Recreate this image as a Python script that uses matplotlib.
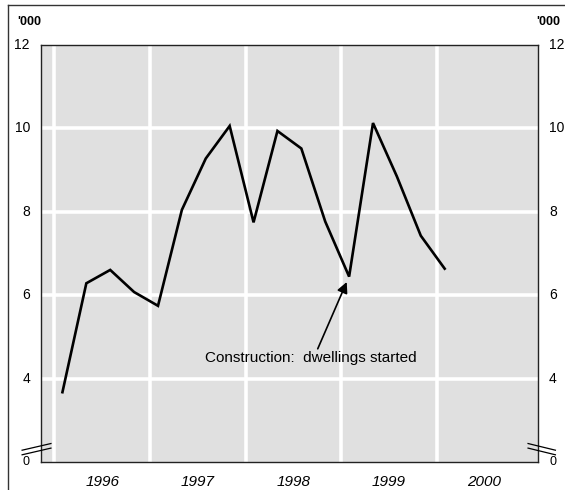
import numpy as np
import matplotlib.pyplot as plt
from matplotlib.lines import Line2D

# Quarterly dwellings started ('000), Feb/May/Aug/Nov 1996 - Feb 2000
years = [1996, 1997, 1998, 1999, 2000]
year_labels = ['1996', '1997', '1998', '1999', '2000']
dwellings = [3.68, 6.29, 6.61, 6.08, 5.75,
             8.05, 9.28, 10.06, 7.75,
             9.94, 9.52, 7.77, 6.45,
             10.13, 8.85, 7.43, 6.64]
y_ticks = [2, 4, 6, 8, 10, 12]
y_labels = ['0', '4', '6', '8', '10', '12']

plt.rcParams['font.family'] = ['Liberation Sans', 'DejaVu Sans']

# quarter mid-months as decimal years
x = 1996 + (np.arange(len(dwellings)) * 3 + 1) / 12.0

W, H = 565, 490
fig = plt.figure(figsize=(W / 100, H / 100), dpi=100)
ax = fig.add_axes([41 / W, 1 - 462.3 / H, 497 / W, 417.3 / H])

ax.set_facecolor('#e0e0e0')
ax.set_xlim(1995.859, 2001.06)
ax.set_ylim(2, 12)

# white grid
for yr in years:
    ax.axvline(yr, color='white', lw=2.6, zorder=1)
for yv in y_ticks[1:-1]:
    ax.axhline(yv, color='white', lw=2.6, zorder=1)

ax.plot(x, dwellings, color='black', lw=1.9, zorder=3, solid_joinstyle='miter')

# ticks and labels on both sides
ax.set_yticks(y_ticks)
ax.set_yticklabels(y_labels)
ax.set_xticks([yr + 0.5 for yr in years])
ax.set_xticklabels(year_labels, style='italic', fontsize=11)
ax.tick_params(axis='x', length=0, pad=9)
ax.tick_params(axis='y', length=0, labelsize=10, pad=8,
               left=True, right=True, labelleft=True, labelright=True)
for lab in ax.get_yticklabels():
    lab.set_verticalalignment('center')

# the broken-axis zero is printed a bit smaller
for t in ax.yaxis.get_major_ticks()[:1]:
    t.label1.set_fontsize(9)
    t.label2.set_fontsize(9)
    t.label1.set_y(1.99)

for sp in ax.spines.values():
    sp.set_color('#222222')
    sp.set_linewidth(1.0)
    sp.set_zorder(4)

# axis break marks
for dy in (0.0, 0.011):
    ax.plot([-0.038, 0.02], [0.018 + dy, 0.034 + dy], transform=ax.transAxes,
            color='black', lw=0.9, clip_on=False, zorder=5)
    ax.plot([0.98, 1.035], [0.034 + dy, 0.018 + dy], transform=ax.transAxes,
            color='black', lw=0.9, clip_on=False, zorder=5)

# units
fig.text(17 / W, 1 - 22 / H, "'000", fontsize=9, fontweight='bold', va='center', ha='left')
fig.text(560 / W, 1 - 22 / H, "'000", fontsize=9, fontweight='bold', va='center', ha='right')

# annotation
ax.text(1998.685, 4.50, 'Construction:  dwellings started',
        ha='center', va='center', fontsize=11, zorder=6)
ax.annotate('', xy=(x[12] - 0.025, dwellings[12] - 0.13), xytext=(1998.755, 4.72),
            zorder=6,
            arrowprops=dict(arrowstyle='-|>', color='black', lw=1.2,
                            mutation_scale=16, shrinkA=0, shrinkB=0))

# outer frame (left and top)
fig.add_artist(Line2D([7.5 / W, 7.5 / W], [0, 1 - 5.5 / H], color='#333333', lw=1.0))
fig.add_artist(Line2D([7.5 / W, 1], [1 - 5.5 / H, 1 - 5.5 / H], color='#333333', lw=1.0))

fig.savefig('out.png', dpi=100)
